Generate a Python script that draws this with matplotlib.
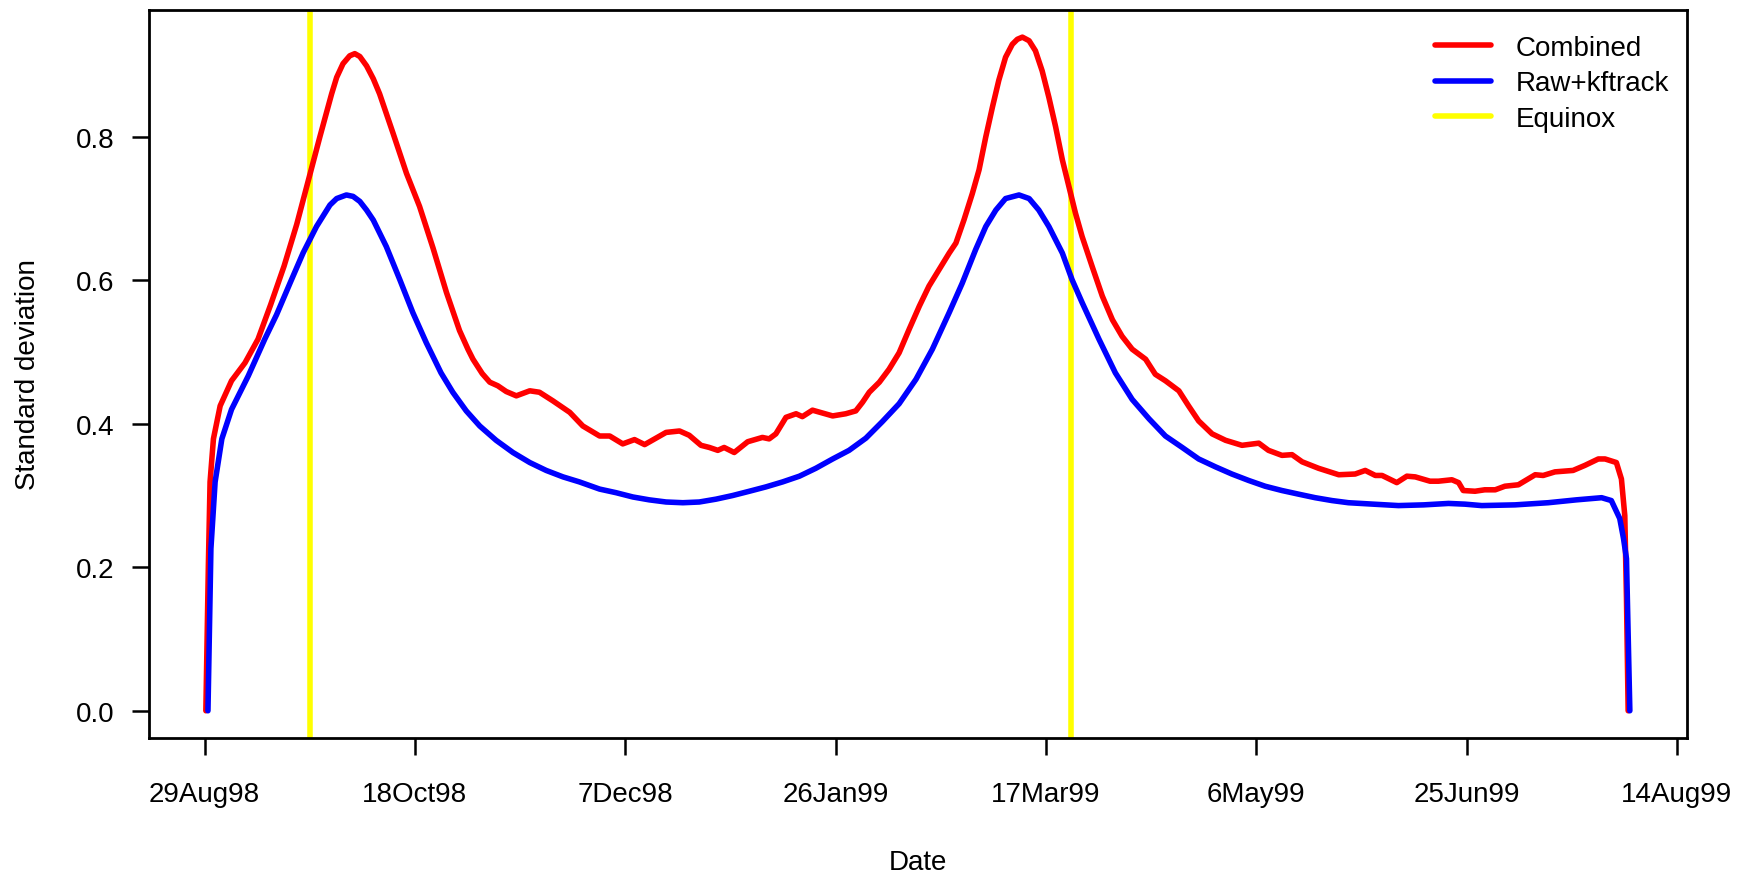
import numpy as np
import matplotlib
matplotlib.use("Agg")
import matplotlib.pyplot as plt

plt.rcParams['font.family'] = ['Liberation Sans', 'DejaVu Sans']

# ---------------- data ----------------
start_date = np.datetime64('1998-08-29')

# Combined (days since 29Aug98, standard deviation)
combined_days = [0.3, 0.9, 1.3, 2.1, 3.7, 6.4, 9.6, 12.7, 15.7, 18.9, 21.9, 24.6, 27.4, 30.2,
                 31.4, 32.9, 34.5, 35.7, 36.9, 38.5, 40.1, 41.6, 44.8, 48.0, 51.1, 54.3, 57.5,
                 60.6, 62.6, 63.8, 66.0, 67.8, 69.7, 71.7, 74.1, 77.3, 79.6, 82.8, 86.8, 89.9,
                 93.9, 96.3, 99.4, 102.2, 104.6, 107.3, 109.7, 112.9, 115.2, 118.0, 120.0, 122.0,
                 123.5, 125.9, 129.1, 132.6, 134.2, 135.8, 138.2, 140.6, 142.1, 144.5, 149.3,
                 152.4, 154.8, 156.4, 158.0, 160.4, 162.7, 165.1, 167.5, 169.9, 172.2, 174.6,
                 177.0, 178.6, 180.5, 182.5, 184.1, 185.7, 187.3, 188.8, 190.4, 192.0, 193.2,
                 194.4, 196.0, 197.5, 199.1, 200.7, 202.3, 203.9, 205.5, 207.0, 208.6, 211.0,
                 213.4, 215.8, 218.1, 220.5, 222.1, 223.7, 226.0, 228.4, 231.6, 233.9, 236.3,
                 239.5, 242.7, 246.6, 250.6, 252.9, 256.1, 258.5, 260.9, 264.8, 269.6, 273.5,
                 275.9, 278.3, 279.9, 283.4, 285.8, 287.8, 291.3, 293.3, 296.5, 298.1, 299.2,
                 302.0, 304.3, 306.8, 309.1, 312.3, 316.3, 318.2, 321.0, 325.3, 328.1, 331.3,
                 332.9, 335.6, 336.8, 337.6, 338.0, 338.4]
combined_sd = [0.0, 0.203, 0.319, 0.379, 0.425, 0.460, 0.485, 0.518, 0.566, 0.620, 0.678,
               0.738, 0.800, 0.860, 0.883, 0.902, 0.913, 0.916, 0.912, 0.899, 0.881, 0.860,
               0.805, 0.749, 0.703, 0.645, 0.583, 0.530, 0.504, 0.490, 0.470, 0.458, 0.453,
               0.445, 0.439, 0.446, 0.444, 0.432, 0.416, 0.397, 0.383, 0.383, 0.372, 0.378,
               0.371, 0.380, 0.388, 0.390, 0.384, 0.370, 0.367, 0.363, 0.367, 0.360, 0.375,
               0.381, 0.379, 0.386, 0.409, 0.414, 0.410, 0.419, 0.411, 0.414, 0.418, 0.430,
               0.444, 0.458, 0.476, 0.499, 0.532, 0.564, 0.592, 0.615, 0.638, 0.652, 0.684,
               0.721, 0.754, 0.800, 0.842, 0.879, 0.911, 0.929, 0.936, 0.939, 0.934, 0.920,
               0.892, 0.855, 0.814, 0.768, 0.730, 0.694, 0.661, 0.619, 0.578, 0.545, 0.522,
               0.504, 0.497, 0.490, 0.469, 0.460, 0.446, 0.425, 0.404, 0.386, 0.377, 0.370,
               0.373, 0.363, 0.356, 0.357, 0.347, 0.338, 0.329, 0.330, 0.335, 0.328, 0.328,
               0.318, 0.327, 0.326, 0.320, 0.320, 0.322, 0.318, 0.307, 0.306, 0.308, 0.308,
               0.313, 0.315, 0.329, 0.328, 0.333, 0.335, 0.342, 0.351, 0.351, 0.346, 0.323,
               0.272, 0.157, 0.0]

# Raw+kftrack
kf_days = [0.8, 1.5, 2.5, 4.1, 6.4, 10.4, 14.3, 17.1, 20.3, 23.4, 26.6, 29.8, 31.4, 33.7,
           35.3, 36.9, 38.5, 40.1, 43.2, 46.4, 49.5, 52.7, 56.2, 59.0, 62.2, 65.4, 69.3, 73.3,
           77.3, 81.2, 85.2, 89.1, 93.9, 97.8, 101.8, 105.7, 109.7, 113.7, 117.6, 121.6, 125.5,
           129.5, 133.4, 137.4, 141.4, 145.3, 149.3, 153.2, 157.2, 161.1, 165.1, 169.1, 173.0,
           177.0, 180.1, 183.3, 185.7, 188.1, 190.4, 193.6, 196.0, 198.3, 200.7, 203.9, 206.2,
           208.6, 212.6, 216.5, 220.5, 224.5, 228.4, 232.4, 236.3, 240.3, 244.2, 248.2, 252.1,
           256.1, 260.0, 264.0, 268.0, 271.9, 277.8, 283.8, 289.8, 295.7, 299.6, 303.6, 311.5,
           319.4, 326.1, 332.1, 334.4, 336.4, 337.3, 338.0, 338.8]
kf_sd = [0.0, 0.226, 0.319, 0.379, 0.420, 0.467, 0.518, 0.552, 0.596, 0.638, 0.675, 0.705,
         0.714, 0.719, 0.717, 0.710, 0.698, 0.684, 0.647, 0.601, 0.555, 0.513, 0.471, 0.444,
         0.418, 0.397, 0.377, 0.360, 0.346, 0.335, 0.326, 0.319, 0.309, 0.304, 0.298, 0.294,
         0.291, 0.290, 0.291, 0.295, 0.300, 0.306, 0.312, 0.319, 0.327, 0.338, 0.351, 0.363,
         0.380, 0.403, 0.428, 0.462, 0.504, 0.555, 0.596, 0.643, 0.675, 0.698, 0.714, 0.719,
         0.714, 0.698, 0.675, 0.638, 0.601, 0.569, 0.518, 0.471, 0.434, 0.407, 0.383, 0.367,
         0.351, 0.340, 0.330, 0.321, 0.313, 0.307, 0.302, 0.297, 0.293, 0.290, 0.288, 0.286,
         0.287, 0.289, 0.288, 0.286, 0.287, 0.290, 0.294, 0.297, 0.293, 0.268, 0.240, 0.212,
         0.0]

equinox_dates = ['1998-09-23', '1999-03-23']
tick_dates = ['1998-08-29', '1998-10-18', '1998-12-07', '1999-01-26',
              '1999-03-17', '1999-05-06', '1999-06-25', '1999-08-14']
tick_labels = ['29Aug98', '18Oct98', '7Dec98', '26Jan99',
               '17Mar99', '6May99', '25Jun99', '14Aug99']
y_ticks = [0.0, 0.2, 0.4, 0.6, 0.8]
series_names = ['Combined', 'Raw+kftrack', 'Equinox']
series_colors = ['#FF0000', '#0000FF', '#FFFF00']


def day_offset(date_str):
    return float((np.datetime64(date_str) - start_date).astype(int))


# ---------------- figure ----------------
W, H = 1755, 878
fig = plt.figure(figsize=(W / 100, H / 100), dpi=100)
ax_l, ax_r, ax_t, ax_b = 148.9, 1686.8, 11.2, 738.7
ax = fig.add_axes([ax_l / W, 1 - ax_b / H, (ax_r - ax_l) / W, (ax_b - ax_t) / H])

lw = 4.0
for d in equinox_dates:
    ax.axvline(day_offset(d), color=series_colors[2], lw=lw, zorder=1)
ax.plot(combined_days, combined_sd, color=series_colors[0], lw=lw, zorder=2,
        solid_capstyle='round', solid_joinstyle='round')
ax.plot(kf_days, kf_sd, color=series_colors[1], lw=lw, zorder=3,
        solid_capstyle='round', solid_joinstyle='round')

# R-style 4% axis extension
all_x = np.concatenate([combined_days, kf_days])
all_y = np.concatenate([combined_sd, kf_sd])
xr = all_x.max() - all_x.min()
yr = all_y.max() - all_y.min()
ax.set_xlim(all_x.min() - 0.04 * xr, all_x.max() + 0.04 * xr)
ax.set_ylim(all_y.min() - 0.04 * yr, all_y.max() + 0.04 * yr)

fs = 20
ax.set_xticks([day_offset(d) for d in tick_dates])
ax.set_xticklabels(tick_labels)
ax.set_yticks(y_ticks)
ax.set_yticklabels([f"{v:.1f}" for v in y_ticks])
ax.tick_params(axis='x', length=12.5, width=1.8, pad=19, labelsize=fs, direction='out')
ax.tick_params(axis='y', length=12.5, width=1.8, pad=12, labelsize=fs, direction='out')
for s in ax.spines.values():
    s.set_linewidth(2.0)

fig.text((ax_l + ax_r) / 2 / W, 1 - 863 / H, 'Date', ha='center', va='center', fontsize=fs)
fig.text(28 / W, 1 - (ax_t + ax_b) / 2 / H, 'Standard deviation', ha='center', va='center',
         rotation=90, fontsize=fs)

handles = [plt.Line2D([], [], color=c, lw=lw, solid_capstyle='round') for c in series_colors]
leg = ax.legend(handles, series_names, loc='upper right', frameon=False, fontsize=fs,
                bbox_to_anchor=((1669 - ax_l) / (ax_r - ax_l), 1 - (36.2 - ax_t) / (ax_b - ax_t)),
                borderpad=0, borderaxespad=0, handlelength=2.0, handletextpad=0.9,
                labelspacing=0.33)

fig.savefig('out.png', dpi=100)
